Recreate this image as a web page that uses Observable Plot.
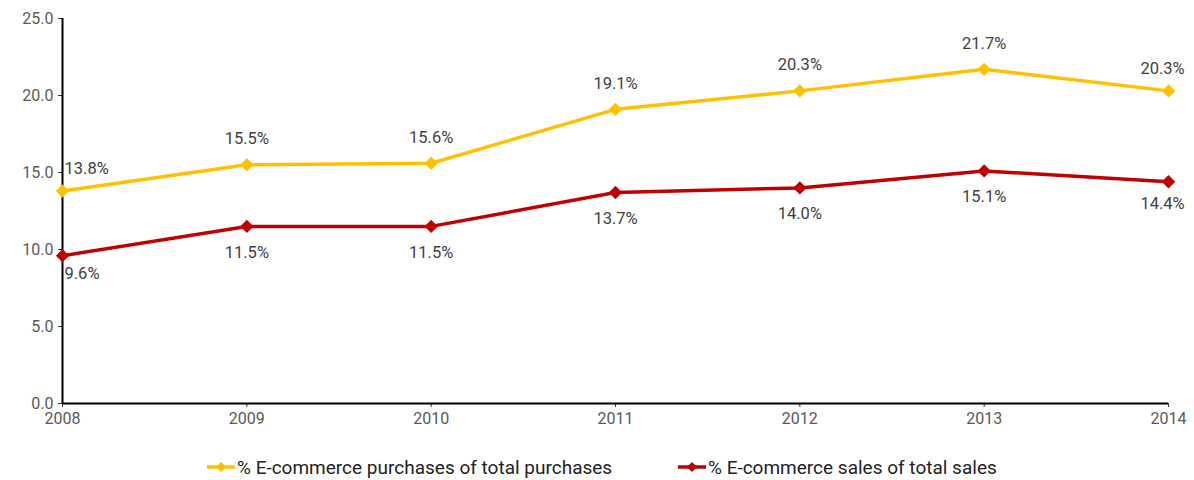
<!DOCTYPE html>
<html>
<head>
<meta charset="utf-8">
<script src="https://cdn.jsdelivr.net/npm/d3@7"></script>
<script src="https://cdn.jsdelivr.net/npm/@observablehq/plot@0.6"></script>
<style>
  html, body { margin: 0; padding: 0; background: #fff; }
  #chart { width: 1194px; height: 480px; position: relative; }
  .legend { position: absolute; top: 453px; left: 0; width: 1194px; height: 28px;
    font-family: "Roboto", sans-serif; font-size: 19px; color: #222; }
  .item { position: absolute; top: 0; display: flex; align-items: center; height: 28px; white-space: nowrap; }
  .item svg { margin-right: 2px; }
</style>
</head>
<body>
<div id="chart"></div>
<script>
const years = [2008, 2009, 2010, 2011, 2012, 2013, 2014];
const purchases = [13.8, 15.5, 15.6, 19.1, 20.3, 21.7, 20.3];
const sales = [9.6, 11.5, 11.5, 13.7, 14.0, 15.1, 14.4];
const seriesNames = ["% E-commerce purchases of total purchases", "% E-commerce sales of total sales"];
const seriesColors = ["#FFC000", "#C00000"];
const yTicks = [0, 5, 10, 15, 20, 25];

const data = [];
years.forEach((y, i) => {
  data.push({year: y, value: purchases[i], series: seriesNames[0]});
  data.push({year: y, value: sales[i], series: seriesNames[1]});
});
const dP = data.filter(d => d.series === seriesNames[0]);
const dS = data.filter(d => d.series === seriesNames[1]);
const first = d => d.year === years[0];
const last = d => d.year === years[years.length - 1];
const mid = d => !first(d) && !last(d);
const fmt = d => d.value.toFixed(1) + "%";

const plot = Plot.plot({
  width: 1194,
  height: 440,
  marginLeft: 62,
  marginRight: 26,
  marginTop: 18,
  marginBottom: 37,
  style: {fontFamily: "Roboto, sans-serif", fontSize: "16px", color: "#595959", background: "#fff"},
  x: {domain: [2008, 2014], label: null},
  y: {domain: [0, 25], label: null},
  color: {domain: seriesNames, range: seriesColors},
  marks: [
    Plot.axisX({ticks: years, tickFormat: d => String(d), tickSize: 4, tickPadding: 5, stroke: "#333", fill: "#595959", fontSize: 16}),
    Plot.axisY({ticks: yTicks, tickFormat: d3.format(".1f"), tickSize: 4, tickPadding: 5, stroke: "#333", fill: "#595959", fontSize: 16}),
    Plot.ruleY([0], {stroke: "#000", strokeWidth: 2}),
    Plot.ruleX([2008], {stroke: "#000", strokeWidth: 2}),
    Plot.line(data, {x: "year", y: "value", z: "series", stroke: "series", strokeWidth: 3.5}),
    Plot.dot(data, {x: "year", y: "value", fill: "series", symbol: "diamond2", r: 6, stroke: "none"}),
    Plot.text(dP.filter(mid), {x: "year", y: "value", text: fmt, dy: -26, textAnchor: "middle", fill: "#404040", fontSize: 16.5}),
    Plot.text(dP.filter(last), {x: "year", y: "value", text: fmt, dy: -22, dx: -6, textAnchor: "middle", fill: "#404040", fontSize: 16.5}),
    Plot.text(dP.filter(first), {x: "year", y: "value", text: fmt, dy: -22, dx: 2, textAnchor: "start", fill: "#404040", fontSize: 16.5}),
    Plot.text(dS.filter(mid), {x: "year", y: "value", text: fmt, dy: 26, textAnchor: "middle", fill: "#404040", fontSize: 16.5}),
    Plot.text(dS.filter(last), {x: "year", y: "value", text: fmt, dy: 22, dx: -6, textAnchor: "middle", fill: "#404040", fontSize: 16.5}),
    Plot.text(dS.filter(first), {x: "year", y: "value", text: fmt, dy: 18, dx: 2, textAnchor: "start", fill: "#404040", fontSize: 16.5})
  ]
});
const chart = document.getElementById("chart");
chart.appendChild(plot);

const legend = document.createElement("div");
legend.className = "legend";
const lefts = [207, 678];
seriesNames.forEach((name, i) => {
  const item = document.createElement("div");
  item.className = "item";
  item.style.left = lefts[i] + "px";
  item.innerHTML = `<svg width="28" height="12"><line x1="0" y1="6" x2="28" y2="6" stroke="${seriesColors[i]}" stroke-width="3.5"/><path d="M14,1 L19,6 L14,11 L9,6 Z" fill="${seriesColors[i]}"/></svg><span>${name}</span>`;
  legend.appendChild(item);
});
chart.appendChild(legend);
</script>
</body>
</html>
